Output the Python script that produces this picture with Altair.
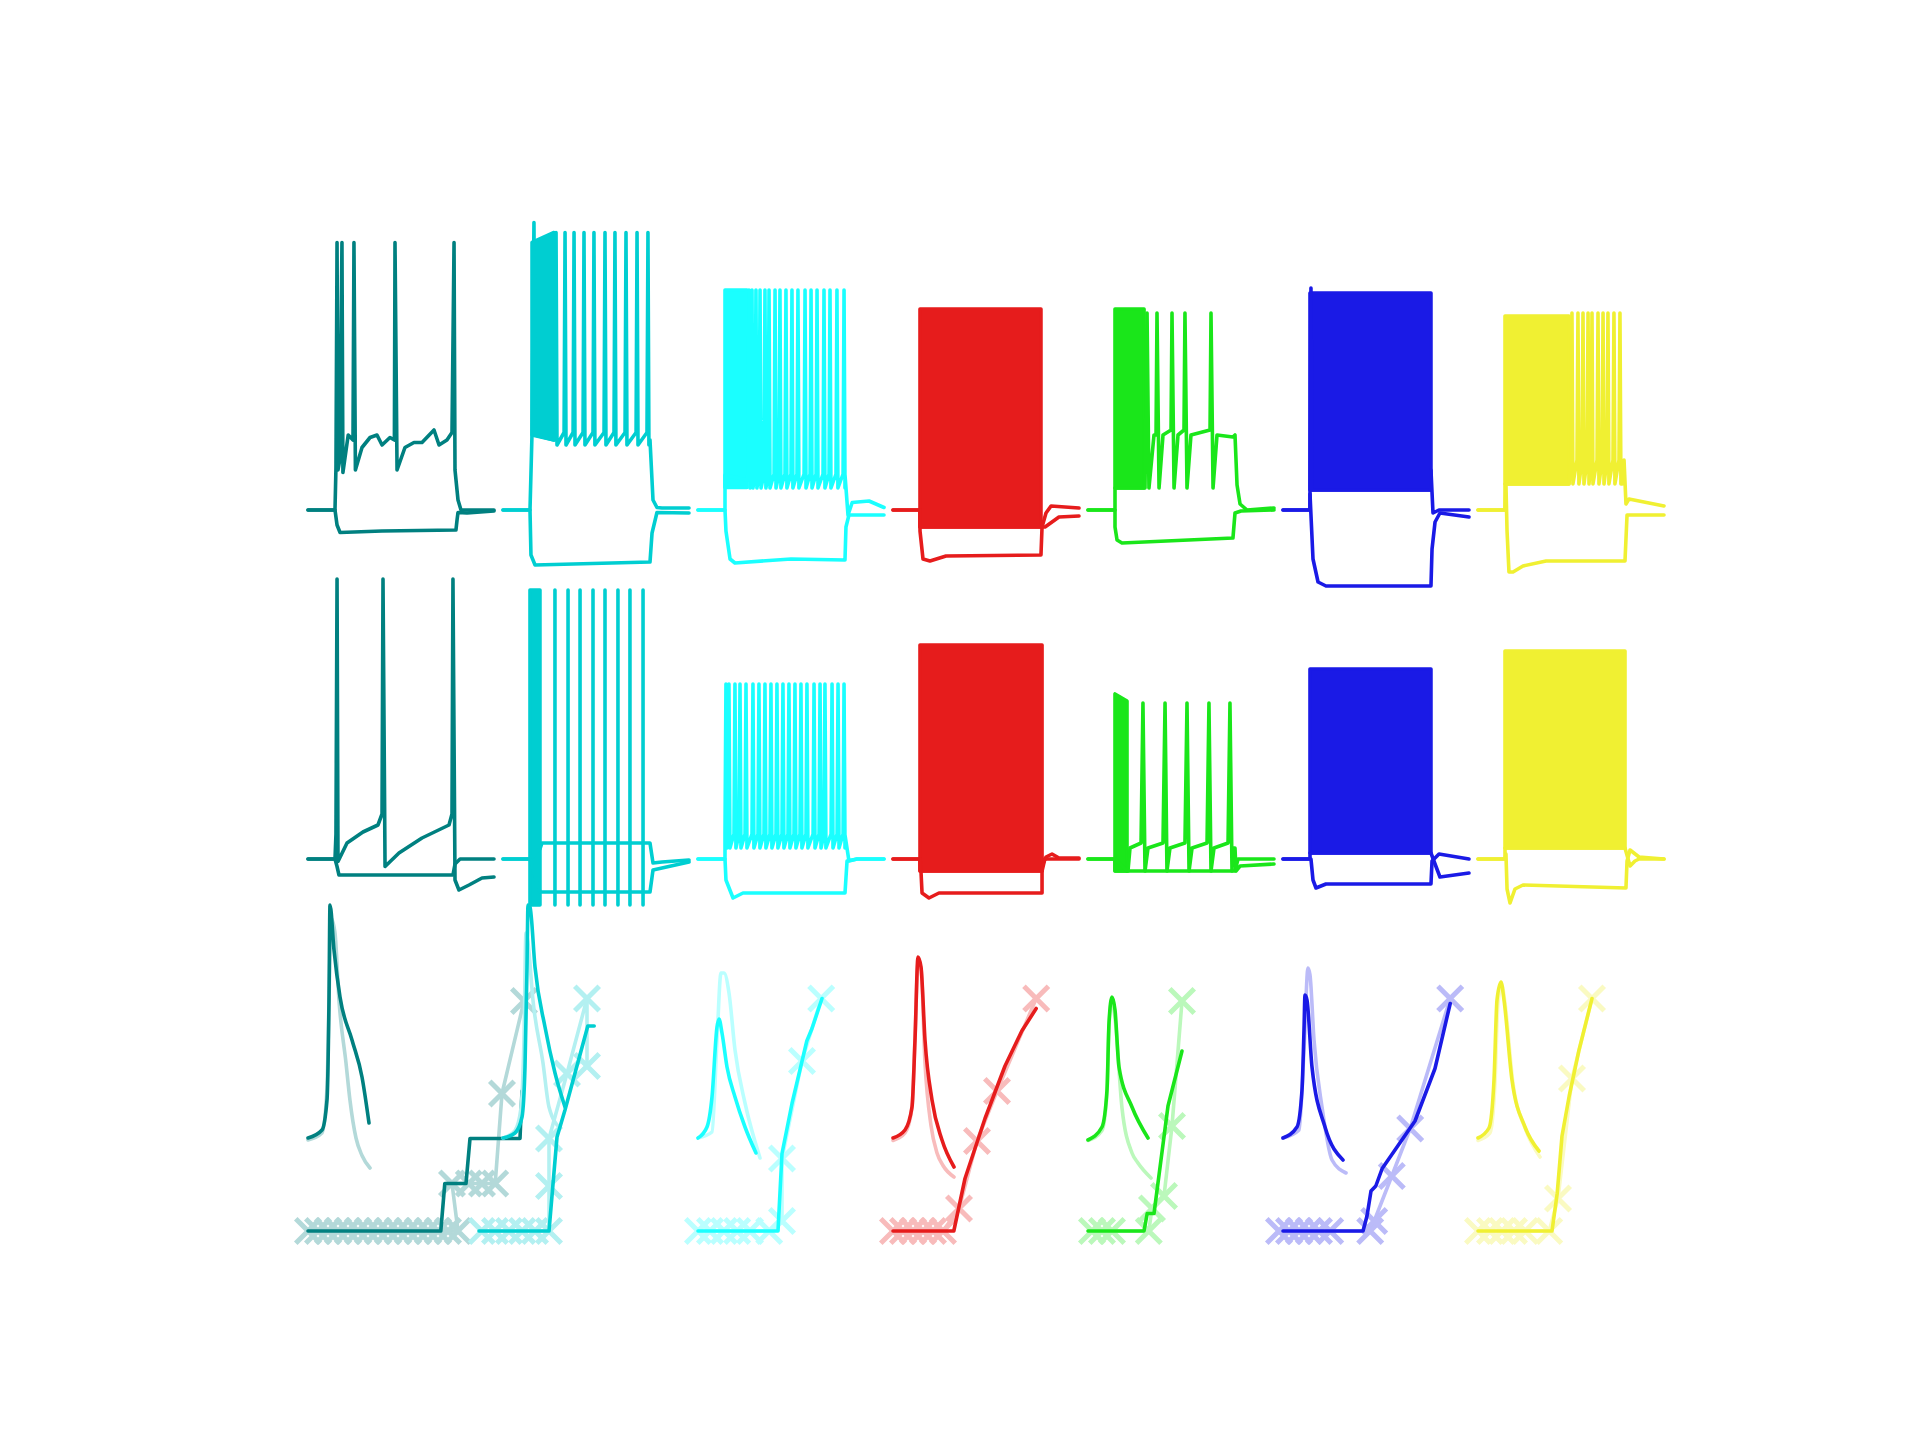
import altair as alt
import pandas as pd

# cell colours (strong model) and the pale colours of the second model
COLORS = ["#008080", "#00CED1", "#1AFFFF", "#E61C1C", "#1AE61A", "#1A1AE6", "#F0F032"]
PALE = ["#B3D9D9", "#B3F0F1", "#BAFFFF", "#F8BBBB", "#BBF8BB", "#BBBBF8", "#FAFAC2"]

# ---- row 1: step responses (t in ms, V in mV) ----
teal_hyp1 = [(-225, -70), (0, -70), (17, -76), (42, -79), (392, -78.4), (1008, -78), (1017, -74),
             (1025, -71), (1100, -71.2), (1325, -70.4)]
teal_dep1 = [(-225, -70), (0, -70), (8, -53), (17, 37), (25, -54), (40, -50), (58, 37), (66, -55),
             (110, -40), (150, -42), (158, 37), (170, -54), (225, -45), (292, -41), (350, -40),
             (392, -44), (458, -41), (495, -42), (500, 37), (517, -54), (583, -45), (658, -43),
             (725, -43), (825, -38), (867, -44), (933, -42), (975, -39), (992, 37), (1000, -54),
             (1025, -66), (1050, -70), (1325, -70)]
turq_hyp1 = [(-225, -70), (0, -70), (8, -88), (42, -92), (1000, -90.8), (1017, -79.2), (1058, -71),
             (1325, -71.2)]
turq_head1 = [(-225, -70), (0, -70), (17, -39), (33, 45), (42, -40), (200, -42)]
turq_blk1 = [(17, -40, 37), (200, -42, 41)]
turq_spk1 = [217, 292, 367, 450, 533, 625, 708, 800, 892, 983]
turq_lv1 = (-39, 41, -44)
turq_tail1 = [(992, -43), (1000, -42), (1025, -66), (1058, -69), (1100, -69.2), (1325, -69.2)]
cyan_hyp1 = [(-225, -70), (0, -70), (8, -78.4), (42, -89.6), (83, -91.2), (550, -89.6), (1000, -90),
             (1008, -76.8), (1033, -72), (1325, -72)]
cyan_head1 = [(-225, -70), (0, -70), (0, -56), (183, -58)]
cyan_blk1 = [(0, -61, 18), (183, -61, 18)]
cyan_spk1 = [200, 225, 258, 292, 333, 367, 417, 458, 508, 558, 608, 667, 717, 767, 825, 875, 933, 992]
cyan_lv1 = (-55.6, 18, -61.2)
cyan_tail1 = [(1000, -56), (1025, -72), (1060, -67), (1200, -66.4), (1325, -69)]
red_hyp1 = [(-225, -70), (0, -70), (0, -78.4), (25, -89.6), (83, -90.4), (217, -88.4), (1008, -88),
            (1017, -76.8), (1050, -71.2), (1092, -68.4), (1325, -69.2)]
red_blk1 = [(0, -76.8, 10.4), (1008, -76.8, 10.4)]
red_dep1 = [(-225, -70), (0, -70), (0, -76.8), (1042, -76.8), (1158, -72.8), (1325, -72.4)]
green_hyp1 = [(-225, -70), (0, -70), (0, -76.8), (17, -82), (58, -83.2), (983, -81.2), (1000, -71.2),
              (1050, -70.4), (1325, -70)]
green_blk1 = [(0, -61.2, 10.4), (242, -61.2, 10.4)]
green_dep1 = [(-225, -70), (0, -70), (0, -61.2), (250, -61.2), (267, 8.8), (283, -61.2), (325, -40),
              (342, -40), (350, 8.8), (367, -61.2), (400, -40), (467, -38), (475, 8.8), (492, -61.2),
              (525, -40), (575, -38), (583, 8.8), (600, -61.2), (633, -40), (792, -38), (800, 8.8),
              (817, -61.2), (850, -40), (983, -40.8), (1000, -40), (1017, -60), (1042, -67.6),
              (1100, -70), (1325, -69.2)]
blue_hyp1 = [(-225, -70), (0, -70), (0, -63.6), (25, -89.6), (67, -98.8), (133, -100.4), (1008, -100.4),
             (1017, -85.6), (1042, -74.8), (1083, -71.2), (1325, -72.8)]
blue_blk1 = [(0, -62, 16.8), (1008, -62, 16.8)]
blue_dep1 = [(-225, -70), (0, -70), (0, -62), (8, 18.8), (16, -62), (1008, -62), (1008, -54),
             (1025, -71.2), (1075, -70), (1325, -70)]
yellow_hyp1 = [(-225, -70), (0, -70), (8, -60), (17, -78.4), (33, -94.8), (67, -94.8), (150, -92.4),
               (342, -90.4), (1000, -90.4), (1017, -72), (1325, -72)]
yellow_head1 = [(-225, -70), (0, -70), (0, -59.6), (533, -59.6)]
yellow_blk1 = [(0, -59.6, 7.6), (533, -59.6, 7.6)]
yellow_spk1 = [558, 608, 650, 692, 725, 775, 817, 858, 908, 958]
yellow_lv1 = (-50, 8.8, -59.6)
yellow_tail1 = [(975, -59.6), (992, -50), (1008, -67.6), (1033, -65.6), (1325, -68.4)]

# ---- row 2: step responses of the second model ----
teal_hyp2 = [(-225, -70), (0, -70), (17, -73), (33, -76.4), (983, -76.4), (1000, -72), (1042, -70),
             (1325, -70)]
teal_dep2 = [(-225, -70), (0, -70), (8, -60), (17, 42), (25, -71), (100, -63.6), (233, -59.2),
             (358, -56.4), (392, -52), (400, 42), (417, -73), (533, -67.6), (725, -61.6), (950, -56.4),
             (975, -52), (983, 42), (1000, -78.4), (1033, -82.4), (1117, -80.4), (1225, -77.6),
             (1325, -77.2)]
turq_up2 = [(-225, -70), (0, -70), (83, -66), (100, -63.6), (1000, -63.6), (1025, -71.6), (1100, -71.2),
            (1325, -70.4)]
turq_low2 = [(-225, -70), (0, -70), (83, -83.2), (1000, -83.2), (1025, -74.4), (1325, -71.2)]
turq_blk2 = [(0, -88.4, 37.6), (83, -88.4, 37.6)]
turq_spk2 = [208, 317, 417, 525, 625, 733, 833, 942]
turq_rng2 = (-88.4, 37.6)
cyan_hyp2 = [(-225, -70), (0, -70), (8, -78.4), (67, -85.6), (150, -83.6), (1000, -83.6), (1017, -70.8),
             (1100, -70), (1325, -70)]
cyan_head2 = [(-225, -70), (0, -70)]
cyan_spk2 = [8, 33, 83, 125, 175, 233, 283, 333, 383, 433, 483, 533, 583, 633, 683, 742, 792, 833, 892,
             942, 992]
cyan_lv2 = (-60, 0, -65.6)
cyan_tail2 = [(1000, -60.4), (1033, -70.8), (1100, -70), (1325, -70)]
red_hyp2 = [(-225, -70), (0, -70), (8, -74.8), (17, -83.6), (75, -85.6), (158, -83.6), (1017, -83.6),
            (1017, -72.8), (1050, -69.2), (1100, -68), (1158, -69.6), (1325, -69.6)]
red_blk2 = [(0, -74.8, 15.6), (1017, -74.8, 15.6)]
red_dep2 = [(-225, -70), (0, -70), (0, -74.8), (1017, -74.8), (1040, -70), (1325, -70)]
green_hyp2 = [(-225, -70), (0, -70), (0, -74.8), (1000, -74.8), (1025, -70), (1325, -70)]
green_blk2 = [(0, -74.8, -4), (100, -74.8, -6.8)]
green_dep2 = [(-225, -70), (0, -70), (100, -74.8), (108, -74.8), (125, -65.6), (217, -63.6), (233, -7.6),
              (250, -74.8), (275, -65.6), (400, -63.6), (417, -7.6), (433, -74.8), (458, -65.6),
              (583, -63.6), (600, -7.6), (617, -74.8), (642, -65.6), (767, -63.6), (783, -7.6),
              (800, -74.8), (825, -65.6), (942, -63.6), (958, -7.6), (975, -74.8), (983, -65.6),
              (1000, -65.6), (1008, -74.8), (1042, -72.8), (1325, -72)]
blue_hyp2 = [(-225, -70), (0, -70), (8, -70), (25, -78.4), (50, -81.6), (133, -80), (1008, -80),
             (1017, -70.8), (1075, -68), (1325, -70)]
blue_blk2 = [(0, -67.6, 6), (1008, -67.6, 6)]
blue_dep2 = [(-225, -70), (0, -70), (0, -67.6), (1008, -67.6), (1042, -72), (1083, -77.2), (1325, -75.6)]
yellow_hyp2 = [(-225, -70), (0, -70), (8, -68), (17, -82), (42, -87.6), (83, -82), (150, -80.4),
               (1008, -81.6), (1017, -70.8), (1042, -66.4), (1117, -69.2), (1325, -70)]
yellow_blk2 = [(0, -65.6, 13.2), (1000, -65.6, 13.2)]
yellow_dep2 = [(-225, -70), (0, -70), (0, -65.6), (1000, -65.6), (1042, -72.8), (1083, -70.8),
               (1117, -70), (1325, -70)]

# ---- row 3: spike waveform (t ms, V mV) ----
teal_ap = [(-1.5, -60), (-0.8, -56.8), (-0.55, -44.8), (-0.45, -4.8), (-0.4, 33.2), (-0.2, 15.2),
           (0.1, -3.6), (0.7, -20.8), (1.2, -35.6), (1.55, -54)]
teal_ap_p = [(-1.5, -60.8), (-0.8, -58), (-0.55, -40), (-0.45, -5), (-0.35, 28), (-0.15, 22),
             (0.05, -5), (0.4, -30), (0.6, -45), (0.9, -60), (1.2, -67), (1.6, -72)]
turq_ap = [(-1.5, -60), (-0.9, -58), (-0.55, -51.6), (-0.4, -31.6), (-0.3, 8.4), (-0.25, 33.2),
           (-0.15, 32.4), (0.1, 8.4), (0.6, -15.6), (1.1, -34), (1.6, -47.6)]
turq_ap_p = [(-1.5, -60), (-0.9, -57), (-0.6, -48), (-0.45, -20), (-0.35, 22), (-0.25, 18), (0, -5),
             (0.5, -30), (0.8, -47.6), (1.35, -56)]
cyan_ap = [(-1.5, -60), (-1.05, -55.6), (-0.8, -43.6), (-0.55, -15.6), (-0.45, -12.4), (-0.3, -18),
           (-0.05, -31.6), (0.35, -43.6), (0.85, -55.6), (1.4, -66)]
cyan_ap_p = [(-1.5, -60), (-0.8, -57.6), (-0.55, -20.8), (-0.35, 6), (-0.2, 6), (0.05, -2),
             (0.35, -24.8), (0.85, -46), (1.6, -68)]
red_ap = [(-1.5, -60), (-0.9, -56.8), (-0.55, -47.6), (-0.4, -20.8), (-0.25, 12.4), (-0.1, 8.4),
          (0.1, -20.8), (0.45, -44.8), (0.95, -60.8), (1.55, -71.6)]
red_ap_p = [(-1.5, -61), (-0.9, -58), (-0.55, -48), (-0.4, -20), (-0.25, 10), (-0.1, 8), (0.1, -30),
            (0.4, -55), (0.7, -66), (1.0, -71), (1.55, -75.6)]
green_ap = [(-1.5, -60.8), (-0.8, -55.6), (-0.55, -40.8), (-0.45, -14), (-0.3, -3.6), (-0.15, -8.8),
            (0.05, -31.6), (0.7, -47.6), (1.5, -60)]
green_ap_p = [(-1.5, -61), (-0.8, -57), (-0.55, -42), (-0.45, -15), (-0.3, -5), (-0.15, -12),
              (0.2, -48), (0.7, -66), (1.0, -70), (1.65, -76)]
blue_ap = [(-1.5, -60), (-0.8, -55.6), (-0.55, -40.8), (-0.45, -16.8), (-0.4, -2.8), (-0.3, -4.8),
           (-0.05, -31.6), (0.6, -55.6), (1.5, -68.8)]
blue_ap_p = [(-1.5, -60), (-0.7, -56.8), (-0.45, -24.8), (-0.25, 8), (-0.15, 5.2), (0.05, -20.8),
             (0.45, -47.6), (0.95, -68.8), (1.65, -74)]
yellow_ap = [(-1.5, -60), (-0.95, -56), (-0.7, -36.8), (-0.55, -4.8), (-0.35, 2.4), (-0.2, -4.8),
             (0.2, -36.8), (0.85, -55.6), (1.55, -65.2)]
yellow_ap_p = [(-1.5, -61), (-0.9, -58), (-0.65, -38), (-0.5, -6), (-0.3, 1), (-0.15, -6),
               (0.25, -38), (0.9, -57), (1.6, -67.6)]

# ---- row 3: f-I curves (I pA, rate Hz) ----
teal_fi = [(0, 0), (332, 0), (342, 19), (395, 19), (405, 37), (530, 37), (535, 56)]
teal_fi_p = [(0, 0), (25, 0), (50, 0), (75, 0), (100, 0), (125, 0), (150, 0), (175, 0), (200, 0),
             (225, 0), (250, 0), (275, 0), (300, 0), (325, 0), (350, 0), (375, 0), (360, 19),
             (402, 19), (435, 19), (468, 19), (485, 55), (540, 92)]
turq_fi = [(-60, 0), (115, 0), (135, 37.6), (155, 48.4), (212, 82), (228, 82)]
turq_fi_p = [(-53, 0), (-20, 0), (15, 0), (48, 0), (80, 0), (115, 0), (115, 18), (115, 37), (160, 63),
             (210, 93), (210, 66)]
cyan_fi = [(0, 0), (200, 0), (210, 31), (235, 51), (272, 76), (285, 81), (310, 93)]
cyan_fi_p = [(0, 0), (30, 0), (65, 0), (98, 0), (130, 0), (178, 0), (210, 4), (210, 29), (260, 68),
             (308, 93)]
red_fi = [(0, 0), (152, 0), (180, 21), (230, 45), (280, 66), (322, 80), (358, 89)]
red_fi_p = [(0, 0), (25, 0), (50, 0), (75, 0), (100, 0), (125, 0), (165, 9), (210, 36), (260, 56),
            (358, 93)]
green_fi = [(0, 0), (140, 0), (148, 7), (165, 7), (200, 50), (235, 72)]
green_fi_p = [(10, 0), (35, 0), (60, 0), (152, 0), (160, 9), (190, 14), (210, 42), (235, 92)]
blue_fi = [(0, 0), (200, 0), (210, 6), (220, 16), (232, 18), (248, 25), (330, 44), (380, 65), (418, 91)]
blue_fi_p = [(-10, 0), (15, 0), (40, 0), (65, 0), (90, 0), (118, 0), (218, 0), (228, 4), (272, 22),
             (318, 41), (418, 93)]
yellow_fi = [(0, 0), (185, 0), (198, 15), (210, 38), (228, 54), (252, 72), (285, 93)]
yellow_fi_p = [(0, 0), (30, 0), (60, 0), (90, 0), (118, 0), (178, 0), (200, 13), (235, 61), (285, 93)]


def train(times, lv):
    pre, pk, tr = lv
    pts = []
    for t in times:
        pts += [(t - 8, pre), (t, pk), (t + 8, tr)]
    return pts


# what each panel of rows 1 and 2 holds: (lines, dense-firing block, spike rules)
ROW1 = [
    ([teal_hyp1, teal_dep1], None, None),
    ([turq_hyp1, turq_head1 + train(turq_spk1, turq_lv1) + turq_tail1], turq_blk1, None),
    ([cyan_hyp1, cyan_head1 + train(cyan_spk1, cyan_lv1) + cyan_tail1], cyan_blk1, None),
    ([red_hyp1, red_dep1], red_blk1, None),
    ([green_hyp1, green_dep1], green_blk1, None),
    ([blue_hyp1, blue_dep1], blue_blk1, None),
    ([yellow_hyp1, yellow_head1 + train(yellow_spk1, yellow_lv1) + yellow_tail1], yellow_blk1, None),
]
ROW2 = [
    ([teal_hyp2, teal_dep2], None, None),
    ([turq_up2, turq_low2], turq_blk2, (turq_spk2, turq_rng2)),
    ([cyan_hyp2, cyan_head2 + train(cyan_spk2, cyan_lv2) + cyan_tail2], None, None),
    ([red_hyp2, red_dep2], red_blk2, None),
    ([green_hyp2, green_dep2], green_blk2, None),
    ([blue_hyp2, blue_dep2], blue_blk2, None),
    ([yellow_hyp2, yellow_dep2], yellow_blk2, None),
]
ROW3 = [
    (teal_ap, teal_ap_p, teal_fi, teal_fi_p),
    (turq_ap, turq_ap_p, turq_fi, turq_fi_p),
    (cyan_ap, cyan_ap_p, cyan_fi, cyan_fi_p),
    (red_ap, red_ap_p, red_fi, red_fi_p),
    (green_ap, green_ap_p, green_fi, green_fi_p),
    (blue_ap, blue_ap_p, blue_fi, blue_fi_p),
    (yellow_ap, yellow_ap_p, yellow_fi, yellow_fi_p),
]

W = 186
LW = 3.6


def lin(domain):
    return alt.Scale(domain=domain, nice=False, zero=False)


def frame(points, a, b, name="l"):
    return pd.DataFrame({a: [p[0] for p in points], b: [p[1] for p in points],
                         "k": name, "i": range(len(points))})


def trace_panel(color, spec, h, dom):
    lines, block, rules = spec
    x = alt.X("t:Q", axis=None, scale=lin([-225, 1325]))
    y = alt.Y("v:Q", axis=None, scale=lin(dom))
    layers = []
    if block:
        b = pd.DataFrame(block, columns=["t", "v", "v2"])
        layers.append(alt.Chart(b).mark_area(color=color, stroke=color, strokeWidth=LW,
                                             strokeJoin="round").encode(x, y, y2="v2:Q"))
    df = pd.concat([frame(p, "t", "v", f"l{j}") for j, p in enumerate(lines)])
    layers.append(alt.Chart(df).mark_line(color=color, strokeWidth=LW, strokeCap="round",
                                          strokeJoin="round")
                  .encode(x, y, detail="k:N", order="i:Q"))
    if rules:
        times, (lo, hi) = rules
        r = pd.DataFrame({"t": times, "v": lo, "v2": hi})
        layers.append(alt.Chart(r).mark_rule(color=color, strokeWidth=LW, strokeCap="round")
                      .encode(x, y, y2="v2:Q"))
    return alt.layer(*layers).properties(width=W, height=h)


def ap_fi_panel(color, pale, spec):
    ap, ap_p, fi, fi_p = spec
    ax = alt.X("t:Q", axis=None, scale=lin([-1.5, 7.8]))
    ay = alt.Y("v:Q", axis=None, scale=lin([-108.8, 31.2]))
    fx = alt.X("I:Q", axis=None, scale=lin([0, 465]))
    fy = alt.Y("F:Q", axis=None, scale=lin([-11.6, 128.4]))
    line = dict(strokeWidth=LW, strokeCap="round", strokeJoin="round")
    layers = [
        alt.Chart(frame(ap_p, "t", "v")).mark_line(color=pale, interpolate="monotone", **line)
        .encode(ax, ay, order="i:Q"),
        alt.Chart(frame(fi_p, "I", "F")).mark_line(color=pale, **line).encode(fx, fy, order="i:Q"),
        alt.Chart(frame(fi_p, "I", "F")).mark_point(shape="M-1,-1L1,1M-1,1L1,-1", size=600,
                                                    filled=False, strokeWidth=5, color=pale,
                                                    opacity=1).encode(fx, fy),
        alt.Chart(frame(ap, "t", "v")).mark_line(color=color, interpolate="monotone", **line)
        .encode(ax, ay, order="i:Q"),
        alt.Chart(frame(fi, "I", "F")).mark_line(color=color, **line).encode(fx, fy, order="i:Q"),
    ]
    return alt.layer(*layers).resolve_scale(x="independent", y="independent").properties(
        width=W, height=350)


panels = ([trace_panel(c, s, 375, [-96, 54]) for c, s in zip(COLORS, ROW1)]
          + [trace_panel(c, s, 335, [-90.4, 43.6]) for c, s in zip(COLORS, ROW2)]
          + [ap_fi_panel(c, p, s) for c, p, s in zip(COLORS, PALE, ROW3)])

chart = alt.concat(*panels, columns=7, spacing={"row": 0, "column": 9}, bounds="flush",
                   align="each").properties(
    padding={"left": 277, "top": 192, "right": 10, "bottom": 10},
    background="white",
).configure_view(stroke=None)

chart.save("out.html", embed_options={"renderer": "svg", "actions": False})
